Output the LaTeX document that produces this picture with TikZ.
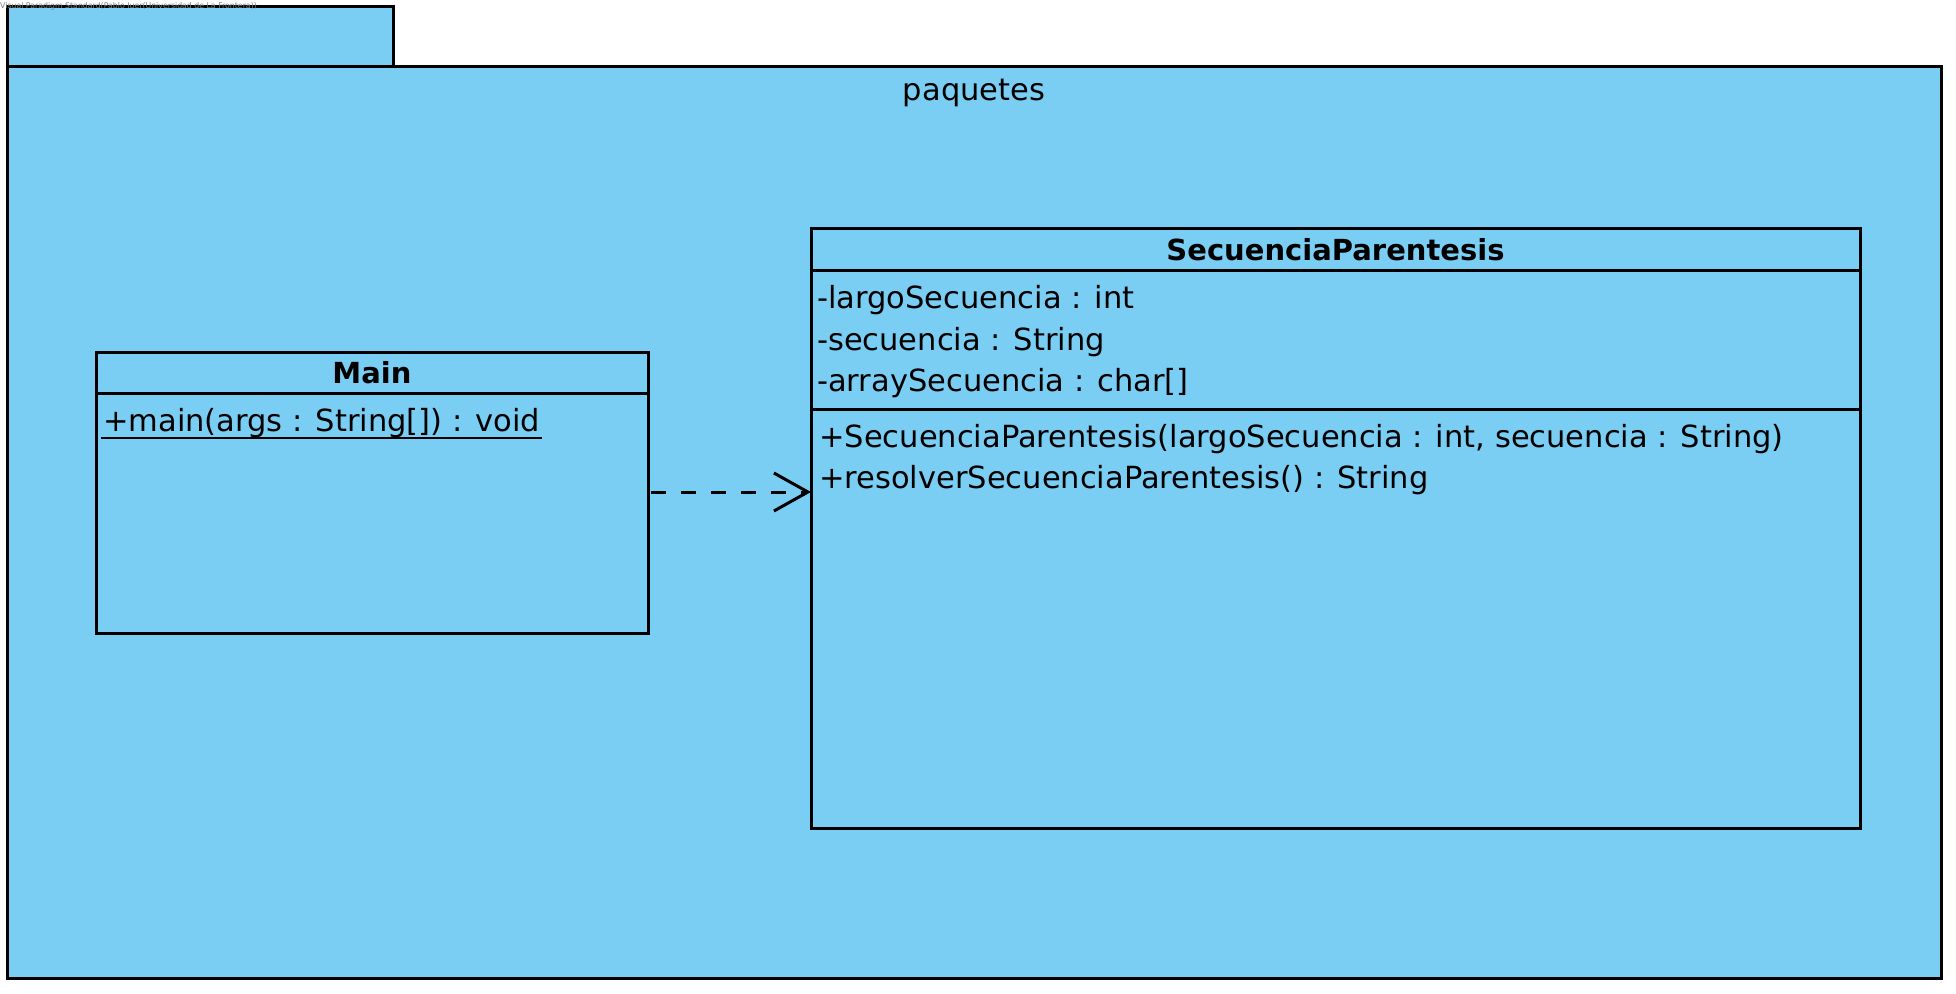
\documentclass[tikz,border=0pt]{standalone}
\usepackage{fontspec}
\setmainfont{DejaVu Sans}
\usetikzlibrary{arrows.meta}
\definecolor{pkgblue}{RGB}{122,206,244}
\definecolor{wmgray}{RGB}{125,125,125}
\tikzset{
  outline/.style={draw=black, line width=3pt, fill=pkgblue},
  boxshape/.style={outline, rectangle, inner sep=0pt, outer sep=0pt, anchor=north west},
  sepline/.style={draw=black, line width=3pt},
  txt/.style={inner sep=0pt, anchor=base west, font=\fontsize{30.5}{36}\selectfont},
  titletxt/.style={inner sep=0pt, anchor=base, font=\fontsize{29}{34}\selectfont\bfseries},
  uline/.style={draw=black, line width=2.5pt},
  dep/.style={draw=black, line width=3pt, dash pattern=on 15pt off 15pt,
    -{Straight Barb[length=34pt, width=38pt, line width=3pt]}}
}
\begin{document}
\begin{tikzpicture}[x=1pt, y=-1pt]
\useasboundingbox (0,0) rectangle (1956,993);
% package
\node[boxshape, minimum width=386pt, minimum height=60pt] (tab) at (7,6) {};
\node[boxshape, minimum width=1934pt, minimum height=912pt] (pkg) at (7,66) {};
\node[inner sep=0pt, anchor=base, font=\fontsize{30.5}{36}\selectfont] (pkgname) at (974,100) {paquetes};
% Main class
\node[boxshape, minimum width=552pt, minimum height=281pt] (main) at (96,352) {};
\coordinate (mainsep) at (0,393);
\draw[sepline] (main.west |- mainsep) -- (main.east |- mainsep);
\node[titletxt] (maintitle) at (372,383) {Main};
\node[txt] (mainop) at (103,431) {+main(args : String[]) : void};
\draw[uline] ([xshift=-2pt, yshift=-7pt]mainop.base west) -- ([xshift=2pt, yshift=-7pt]mainop.base east);
% SecuenciaParentesis class
\node[boxshape, minimum width=1049pt, minimum height=600pt] (seq) at (811,228) {};
\coordinate (seqsepa) at (0,270);
\coordinate (seqsepb) at (0,409);
\draw[sepline] (seq.west |- seqsepa) -- (seq.east |- seqsepa);
\draw[sepline] (seq.west |- seqsepb) -- (seq.east |- seqsepb);
\node[titletxt] (seqtitle) at (1335.5,260) {SecuenciaParentesis};
\node[txt] (a1) at (817,308) {-largoSecuencia : int};
\node[txt] (a2) at (817,350) {-secuencia : String};
\node[txt] (a3) at (817,391) {-arraySecuencia : char[]};
\node[txt] (o1) at (819,447) {+SecuenciaParentesis(largoSecuencia : int, secuencia : String)};
\node[txt] (o2) at (819,488) {+resolverSecuenciaParentesis() : String};
% dependency
\coordinate (arry) at (0,492);
\draw[dep] ([xshift=3pt]main.east |- arry) -- (seq.west |- arry);
% watermark
\node[inner sep=0pt, anchor=west, text=wmgray, font=\fontsize{7.8}{9}\selectfont] (wm) at (0,6) {Visual Paradigm Standard(Pablo Iuer(Universidad de La Frontera))};
\end{tikzpicture}
\end{document}
